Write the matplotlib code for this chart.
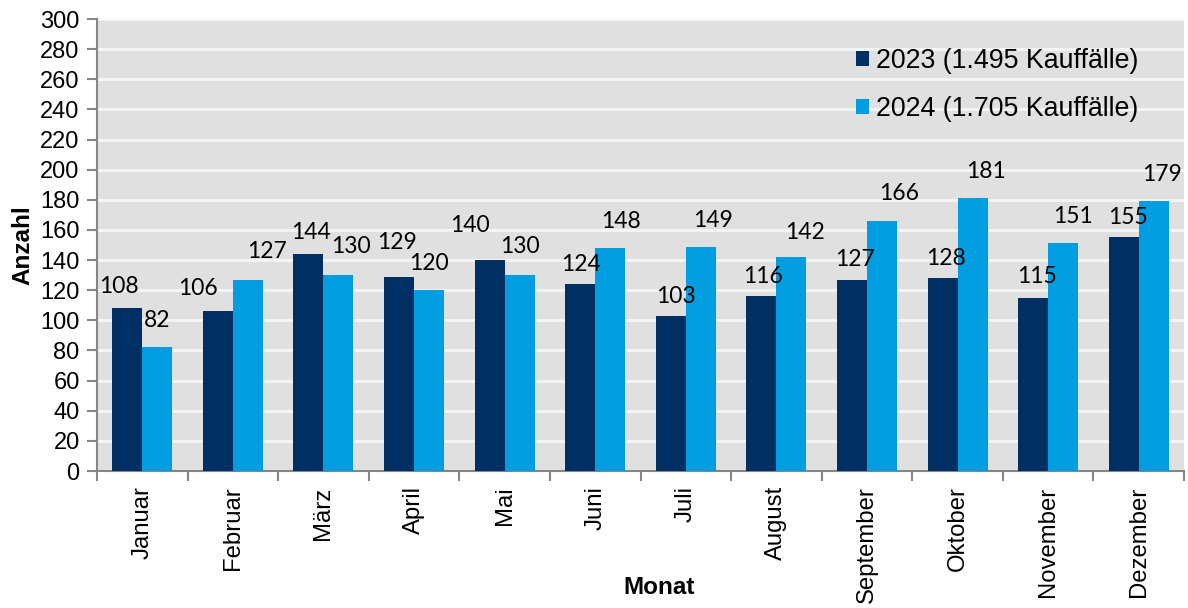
import numpy as np
import matplotlib
matplotlib.use('Agg')
import matplotlib.pyplot as plt
from matplotlib.patches import Patch

monate = ['Januar', 'Februar', 'März', 'April', 'Mai', 'Juni', 'Juli',
          'August', 'September', 'Oktober', 'November', 'Dezember']
werte_2023 = [108, 106, 144, 129, 140, 124, 103, 116, 127, 128, 115, 155]
werte_2024 = [82, 127, 130, 120, 130, 148, 149, 142, 166, 181, 151, 179]
legende = ['2023 (1.495 Kauffälle)', '2024 (1.705 Kauffälle)']

# Label nudges in pixels (dx, dy above bar top)
off_2023 = [(-8, 22), (-20, 23), (3, 22), (-2, 34), (-20, 35), (1, 20),
            (5, 19), (2, 20), (3, 20), (3, 20), (4, 21), (4, 20)]
off_2024 = [(0, 27), (19, 28), (12, 29), (0, 27), (0, 29), (11, 27),
            (12, 26), (14, 25), (17, 27), (13, 27), (10, 27), (8, 27)]

dunkel = '#003063'
hell = '#009EE0'
grau = '#868686'

plt.rcParams['font.family'] = ['Liberation Sans', 'DejaVu Sans']

W, H = 1188, 608
fig = plt.figure(figsize=(W / 100, H / 100), dpi=100)
ax = fig.add_axes([97 / W, 1 - 471 / H, (1184 - 97) / W, (471 - 19) / H])
ax.set_facecolor('#E0E0E0')

x = np.arange(len(monate))
bw = 0.331
b1 = ax.bar(x - bw / 2, werte_2023, bw, color=dunkel, zorder=3)
b2 = ax.bar(x + bw / 2, werte_2024, bw, color=hell, zorder=3)

for bars, vals, offs in [(b1, werte_2023, off_2023), (b2, werte_2024, off_2024)]:
    for r, v, (dx, dy) in zip(bars, vals, offs):
        ax.annotate(str(v), (r.get_x() + r.get_width() / 2, v),
                    xytext=(dx, dy), textcoords='offset pixels',
                    ha='center', va='center', fontsize=16.5,
                    family=['Lato', 'DejaVu Sans'], color='black', zorder=4)

ax.set_xlim(-0.5, len(monate) - 0.5)
ax.set_ylim(0, 300)
ax.set_yticks(np.arange(0, 301, 20))
ax.yaxis.grid(True, color='#F4F4F4', linewidth=2.2, zorder=1)
ax.set_axisbelow(True)

ax.set_xticks(np.arange(-0.5, len(monate), 1))
ax.set_xticklabels([])
ax.set_xticks(x, minor=True)
ax.set_xticklabels(monate, minor=True, rotation=90, fontsize=17.2)
ax.tick_params(axis='x', which='minor', length=0, pad=11)
ax.tick_params(axis='x', which='major', length=7, width=1.5, color=grau)
ax.tick_params(axis='y', length=7, width=1.5, color=grau, labelsize=17, pad=5.5)

for s in ['top', 'right']:
    ax.spines[s].set_visible(False)
for s in ['left', 'bottom']:
    ax.spines[s].set_color(grau)
    ax.spines[s].set_linewidth(1.5)

fig.text(23 / W, 1 - 245 / H, 'Anzahl', rotation=90, ha='center', va='center',
         fontsize=17.5, fontweight='bold')
fig.text(659 / W, 1 - 587 / H, 'Monat', ha='center', va='center',
         fontsize=17.5, fontweight='bold')

handles = [Patch(facecolor=dunkel), Patch(facecolor=hell)]
ax.legend(handles, legende, loc='upper left', bbox_to_anchor=(856 / W, 1 - 48 / H),
          bbox_transform=fig.transFigure, frameon=False, fontsize=19.3,
          handlelength=0.5, handleheight=0.5, handletextpad=0.26,
          labelspacing=0.83, borderpad=0, borderaxespad=0)

fig.savefig('out.png', dpi=100)
